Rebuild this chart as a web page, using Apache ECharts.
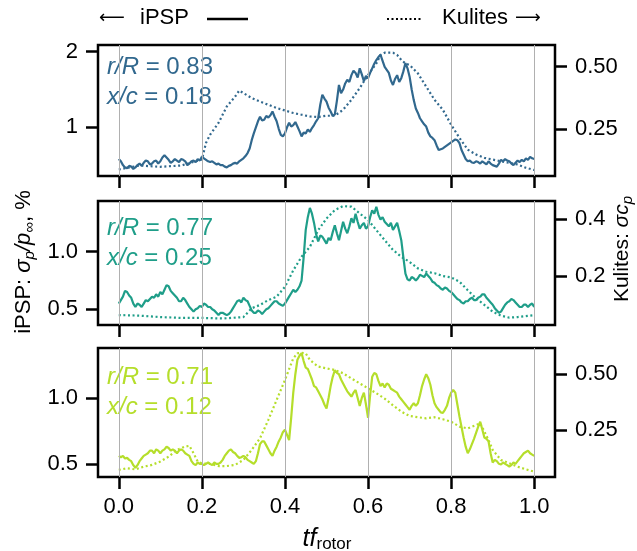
<!DOCTYPE html>
<html><head><meta charset="utf-8">
<script src="https://cdn.jsdelivr.net/npm/echarts@6/dist/echarts.min.js"></script>
<style>html,body{margin:0;padding:0;background:#fff}#c{width:637px;height:551px}</style>
</head><body><div id="c"></div>
<script>
// ---- data (iPSP sampled every 0.005 of tf_rotor, 10 values per row) ----
const ipsp1 = [
  0.58,0.55,0.50,0.47,0.46,0.49,0.48,0.45,0.47,0.50,
  0.52,0.49,0.53,0.56,0.55,0.51,0.52,0.55,0.56,0.52,
  0.55,0.60,0.63,0.60,0.57,0.53,0.55,0.58,0.56,0.54,
  0.58,0.57,0.55,0.50,0.52,0.55,0.56,0.54,0.58,0.56,
  0.61,0.59,0.57,0.55,0.54,0.55,0.53,0.51,0.52,0.50,
  0.50,0.48,0.47,0.49,0.50,0.52,0.53,0.52,0.55,0.57,
  0.59,0.62,0.66,0.72,0.83,0.92,1.00,1.08,1.14,1.09,
  1.10,1.15,1.13,1.16,1.21,1.14,1.08,0.98,0.90,0.88,
  0.92,1.00,1.06,1.01,1.03,1.07,1.01,0.95,0.88,0.93,
  0.92,0.97,0.94,0.99,1.03,1.08,1.12,1.30,1.43,1.38,
  1.34,1.26,1.21,1.15,1.17,1.35,1.56,1.45,1.50,1.58,
  1.63,1.60,1.69,1.75,1.72,1.66,1.78,1.70,1.61,1.68,
  1.65,1.72,1.78,1.84,1.89,1.93,1.96,1.88,1.80,1.76,
  1.72,1.62,1.56,1.64,1.69,1.60,1.65,1.74,1.85,1.78,
  1.67,1.50,1.36,1.25,1.19,1.12,1.08,1.04,1.01,0.93,
  0.88,0.86,0.83,0.76,0.70,0.71,0.72,0.74,0.76,0.78,
  0.80,0.82,0.84,0.83,0.79,0.70,0.64,0.58,0.55,0.56,
  0.535,0.53,0.55,0.54,0.52,0.55,0.53,0.51,0.55,0.52,
  0.50,0.49,0.48,0.52,0.57,0.55,0.58,0.56,0.55,0.52,
  0.50,0.53,0.56,0.54,0.57,0.55,0.59,0.57,0.61,0.59,
  0.58];
const ipsp2 = [
  0.55,0.58,0.61,0.66,0.65,0.62,0.60,0.55,0.52,0.55,
  0.54,0.52,0.55,0.58,0.57,0.59,0.61,0.60,0.63,0.61,
  0.65,0.63,0.67,0.71,0.70,0.66,0.64,0.62,0.60,0.57,
  0.57,0.60,0.58,0.55,0.52,0.50,0.48,0.50,0.51,0.53,
  0.52,0.55,0.54,0.52,0.52,0.50,0.49,0.47,0.45,0.47,
  0.47,0.46,0.45,0.46,0.48,0.51,0.54,0.57,0.58,0.56,
  0.60,0.58,0.57,0.53,0.49,0.47,0.47,0.49,0.48,0.46,
  0.48,0.50,0.51,0.53,0.55,0.57,0.57,0.55,0.54,0.53,
  0.55,0.58,0.61,0.64,0.67,0.65,0.67,0.70,0.75,0.95,
  1.19,1.30,1.38,1.33,1.25,1.15,1.09,1.14,1.13,1.10,
  1.07,1.12,1.10,1.17,1.23,1.16,1.10,1.18,1.26,1.20,
  1.16,1.22,1.29,1.25,1.33,1.26,1.20,1.23,1.25,1.20,
  1.22,1.30,1.36,1.33,1.39,1.32,1.28,1.30,1.26,1.24,
  1.22,1.25,1.19,1.22,1.25,1.18,1.10,0.95,0.81,0.76,
  0.75,0.78,0.77,0.75,0.77,0.80,0.79,0.78,0.81,0.79,
  0.77,0.74,0.73,0.71,0.70,0.68,0.67,0.69,0.68,0.66,
  0.65,0.63,0.61,0.59,0.58,0.56,0.55,0.57,0.57,0.59,
  0.60,0.58,0.58,0.60,0.61,0.63,0.63,0.60,0.58,0.56,
  0.54,0.51,0.49,0.47,0.48,0.51,0.54,0.56,0.57,0.59,
  0.58,0.56,0.54,0.52,0.52,0.54,0.54,0.52,0.54,0.55,
  0.52];
const ipsp3 = [
  0.56,0.55,0.56,0.54,0.545,0.53,0.52,0.49,0.47,0.49,
  0.52,0.54,0.56,0.57,0.58,0.60,0.60,0.58,0.61,0.60,
  0.58,0.60,0.61,0.63,0.62,0.60,0.61,0.60,0.58,0.60,
  0.61,0.60,0.58,0.57,0.56,0.52,0.50,0.49,0.51,0.50,
  0.50,0.49,0.50,0.51,0.50,0.49,0.51,0.50,0.50,0.51,
  0.53,0.56,0.58,0.60,0.61,0.59,0.58,0.56,0.545,0.55,
  0.56,0.55,0.53,0.52,0.51,0.50,0.52,0.58,0.65,0.67,
  0.67,0.64,0.61,0.58,0.56,0.60,0.63,0.67,0.70,0.74,
  0.76,0.72,0.68,0.85,1.04,1.18,1.29,1.32,1.34,1.28,
  1.23,1.22,1.18,1.14,1.09,1.08,1.05,1.02,0.99,0.95,
  0.92,1.00,1.09,1.16,1.21,1.19,1.18,1.14,1.11,1.08,
  1.05,1.03,1.01,1.04,1.06,1.00,0.94,1.00,1.04,0.95,
  0.85,1.02,1.16,1.19,1.18,1.13,1.09,1.11,1.08,1.11,
  1.10,1.07,1.06,1.05,1.04,1.01,0.99,0.97,0.95,0.93,
  0.91,0.94,0.96,0.94,0.96,1.02,1.09,1.14,1.18,1.15,
  1.10,1.02,0.96,0.93,0.91,0.89,0.886,0.91,0.94,1.00,
  1.04,1.06,1.04,0.95,0.86,0.78,0.70,0.63,0.58,0.61,
  0.65,0.69,0.735,0.78,0.82,0.76,0.70,0.69,0.67,0.58,
  0.51,0.53,0.52,0.50,0.495,0.51,0.50,0.49,0.48,0.49,
  0.51,0.50,0.52,0.54,0.56,0.58,0.59,0.60,0.58,0.57,
  0.56];
// Kulites: [tf_rotor, sigma c_p]
const kul1 = [[0,0.087],[0.02,0.094],[0.05,0.103],[0.1,0.098],[0.15,0.103],[0.2,0.127],[0.21,0.194],[0.22,0.227],
  [0.24,0.274],[0.26,0.34],[0.28,0.38],[0.29,0.404],[0.3,0.394],[0.32,0.374],[0.34,0.36],[0.36,0.347],[0.38,0.334],
  [0.4,0.324],[0.42,0.314],[0.44,0.307],[0.46,0.30],[0.48,0.298],[0.5,0.303],[0.52,0.303],[0.54,0.327],[0.56,0.367],
  [0.58,0.414],[0.6,0.467],[0.62,0.513],[0.63,0.547],[0.64,0.556],[0.66,0.556],[0.67,0.547],[0.68,0.527],[0.69,0.513],
  [0.7,0.507],[0.72,0.473],[0.74,0.42],[0.76,0.367],[0.78,0.327],[0.8,0.267],[0.82,0.214],[0.84,0.167],[0.86,0.147],
  [0.88,0.134],[0.9,0.127],[0.92,0.12],[0.94,0.114],[0.96,0.107],[0.98,0.094],[1.0,0.085]];
const kul2 = [[0,0.062],[0.05,0.06],[0.1,0.055],[0.15,0.052],[0.2,0.052],[0.25,0.05],[0.3,0.055],[0.32,0.086],
  [0.34,0.098],[0.36,0.115],[0.38,0.127],[0.4,0.162],[0.42,0.22],[0.44,0.268],[0.46,0.303],[0.48,0.362],[0.5,0.403],
  [0.52,0.433],[0.54,0.447],[0.56,0.445],[0.57,0.433],[0.58,0.421],[0.6,0.398],[0.62,0.362],[0.64,0.327],[0.66,0.292],
  [0.68,0.268],[0.7,0.25],[0.72,0.227],[0.74,0.215],[0.76,0.21],[0.78,0.20],[0.8,0.195],[0.82,0.18],[0.84,0.15],
  [0.86,0.121],[0.88,0.098],[0.9,0.074],[0.92,0.06],[0.94,0.053],[0.96,0.055],[1.0,0.062]];
const kul3 = [[0,0.072],[0.02,0.079],[0.04,0.074],[0.06,0.086],[0.08,0.094],[0.1,0.109],[0.12,0.131],[0.14,0.161],
  [0.16,0.176],[0.17,0.179],[0.18,0.146],[0.19,0.109],[0.2,0.101],[0.22,0.098],[0.24,0.089],[0.26,0.089],[0.28,0.094],
  [0.3,0.116],[0.32,0.161],[0.34,0.213],[0.36,0.295],[0.38,0.384],[0.4,0.473],[0.42,0.57],[0.43,0.592],[0.44,0.595],
  [0.45,0.592],[0.46,0.5625],[0.48,0.533],[0.5,0.525],[0.52,0.518],[0.54,0.503],[0.56,0.48],[0.58,0.458],[0.6,0.436],
  [0.62,0.414],[0.64,0.39],[0.66,0.36],[0.68,0.332],[0.7,0.3125],[0.72,0.307],[0.74,0.302],[0.76,0.307],[0.78,0.298],
  [0.8,0.287],[0.82,0.265],[0.84,0.257],[0.86,0.272],[0.87,0.28],[0.88,0.243],[0.89,0.205],[0.9,0.161],[0.92,0.116],
  [0.94,0.101],[0.96,0.086],[0.98,0.074],[1.0,0.064]];

const xTicks = [0, 0.2, 0.4, 0.6, 0.8, 1.0];
const leftTicks = [[1, 2], [0.5, 1.0], [0.5, 1.0]];
const rightTicks = [[0.25, 0.5], [0.2, 0.4], [0.25, 0.5]];
const panelLabels = [["0.83", "0.18"], ["0.77", "0.25"], ["0.71", "0.12"]];

// ---- style / layout ----
const colors = ['#31688e', '#1f9e89', '#b5de2b'];
const FONT = '"Liberation Sans", Arial, sans-serif';
const grids = [{top: 45, height: 131}, {top: 201, height: 124}, {top: 348, height: 129}];
const textY = [67, 228, 377];
const leftRange = [[0.356, 2.089], [0.364, 1.44], [0.40, 1.379]];
const rightRange = [[0.061, 0.587], [0.027, 0.465], [0.04, 0.616]];
const leftFmt = [v => String(v), v => v.toFixed(1), v => v.toFixed(1)];
const rightFmt = [v => v.toFixed(2), v => v.toFixed(1), v => v.toFixed(2)];
const ipsp = [ipsp1, ipsp2, ipsp3];
const kul = [kul1, kul2, kul3];

const tickStyle = {lineStyle: {color: '#000', width: 2.5}, length: 12, inside: false};
const labelBase = {color: '#000', fontSize: 22, fontFamily: FONT};

const option = {
  animation: false,
  grid: grids.map(g => ({left: 98, right: 82, top: g.top, height: g.height, show: true,
    borderColor: '#000', borderWidth: 2.5, backgroundColor: 'transparent', containLabel: false})),
  xAxis: grids.map((g, i) => ({
    type: 'value', gridIndex: i, min: -0.05, max: 1.05,
    axisLine: {show: false, onZero: false},
    axisTick: Object.assign({show: true, customValues: xTicks}, tickStyle),
    axisLabel: Object.assign({show: i === 2, customValues: xTicks, formatter: v => v.toFixed(1), margin: 19}, labelBase),
    splitLine: {show: false}
  })),
  yAxis: [],
  series: [],
  graphic: []
};
for (let i = 0; i < 3; i++) {
  option.yAxis.push({
    type: 'value', gridIndex: i, position: 'left', min: leftRange[i][0], max: leftRange[i][1],
    axisLine: {show: false, onZero: false},
    axisTick: Object.assign({show: true, customValues: leftTicks[i]}, tickStyle),
    axisLabel: Object.assign({customValues: leftTicks[i], formatter: leftFmt[i], margin: 20}, labelBase),
    splitLine: {show: false}
  });
  option.yAxis.push({
    type: 'value', gridIndex: i, position: 'right', min: rightRange[i][0], max: rightRange[i][1],
    axisLine: {show: false, onZero: false},
    axisTick: Object.assign({show: true, customValues: rightTicks[i]}, tickStyle),
    axisLabel: Object.assign({customValues: rightTicks[i], formatter: rightFmt[i], margin: 20}, labelBase),
    splitLine: {show: false}
  });
  option.series.push({
    type: 'line', xAxisIndex: i, yAxisIndex: 2 * i, data: [], z: 1, silent: true,
    markLine: {silent: true, symbol: ['none', 'none'], label: {show: false}, animation: false,
      lineStyle: {color: '#b0b0b0', width: 1, type: 'solid'},
      data: xTicks.map(v => ({xAxis: v}))}
  });
  option.series.push({
    type: 'line', xAxisIndex: i, yAxisIndex: 2 * i + 1, data: kul[i], showSymbol: false, z: 3,
    lineStyle: {color: colors[i], width: 2.2, type: [2, 2.6]}
  });
  const n = ipsp[i].length;
  option.series.push({
    type: 'line', xAxisIndex: i, yAxisIndex: 2 * i, data: ipsp[i].map((v, k) => [k / (n - 1), v]),
    showSymbol: false, z: 4, lineStyle: {color: colors[i], width: 2.2}
  });
  const rich = {i: {fontStyle: 'italic', fontSize: 24, fontFamily: FONT, fill: colors[i]}};
  option.graphic.push({type: 'text', x: 107, y: textY[i],
    style: {text: '{i|r/R} = ' + panelLabels[i][0], fontSize: 24, fontFamily: FONT, fill: colors[i], rich, verticalAlign: 'middle'}});
  option.graphic.push({type: 'text', x: 107, y: textY[i] + 30,
    style: {text: '{i|x/c} = ' + panelLabels[i][1], fontSize: 24, fontFamily: FONT, fill: colors[i], rich, verticalAlign: 'middle'}});
}
const mkRich = (fs, ss) => ({
  it: {fontStyle: 'italic', fontSize: fs, fontFamily: FONT, fill: '#000'},
  sub: {fontStyle: 'italic', fontSize: ss, fontFamily: FONT, fill: '#000', verticalAlign: 'bottom', lineHeight: ss},
  subn: {fontSize: ss, fontFamily: FONT, fill: '#000', verticalAlign: 'bottom', lineHeight: ss},
  n: {fontSize: fs, fontFamily: FONT, fill: '#000'}
});
option.graphic.push(
  {type: 'text', x: 24, y: 262, rotation: Math.PI / 2,
   style: {text: '{n|iPSP: }{it|σ}{sub|p}{it|/p}{sub|∞}{n|, %}', rich: mkRich(22, 15), align: 'center', verticalAlign: 'middle', lineHeight: 26}},
  {type: 'text', x: 622, y: 249, rotation: Math.PI / 2,
   style: {text: '{n|Kulites: }{it|σc}{sub|p}', rich: mkRich(21, 15), align: 'center', verticalAlign: 'middle', lineHeight: 26}},
  {type: 'text', x: 327, y: 539,
   style: {text: '{it|tf}{subn|rotor}', rich: mkRich(25, 17), align: 'center', verticalAlign: 'middle', lineHeight: 28}},
  {type: 'text', x: 99, y: 18,
   style: {text: '⟵', fontSize: 18, fontFamily: '"DejaVu Sans", sans-serif', fill: '#000', align: 'left', verticalAlign: 'middle'}},
  {type: 'text', x: 140, y: 18,
   style: {text: 'iPSP', fontSize: 22, fontFamily: FONT, fill: '#000', align: 'left', verticalAlign: 'middle'}},
  {type: 'line', shape: {x1: 207, y1: 19, x2: 248, y2: 19}, style: {stroke: '#000', lineWidth: 2.5}},
  {type: 'line', shape: {x1: 387, y1: 19, x2: 421, y2: 19}, style: {stroke: '#000', lineWidth: 2, lineDash: [2, 2.5]}},
  {type: 'text', x: 442, y: 18,
   style: {text: 'Kulites', fontSize: 22, fontFamily: FONT, fill: '#000', align: 'left', verticalAlign: 'middle'}},
  {type: 'text', x: 515, y: 18,
   style: {text: '⟶', fontSize: 18, fontFamily: '"DejaVu Sans", sans-serif', fill: '#000', align: 'left', verticalAlign: 'middle'}}
);
echarts.init(document.getElementById('c'), null, {renderer: 'canvas'}).setOption(option);
</script></body></html>
